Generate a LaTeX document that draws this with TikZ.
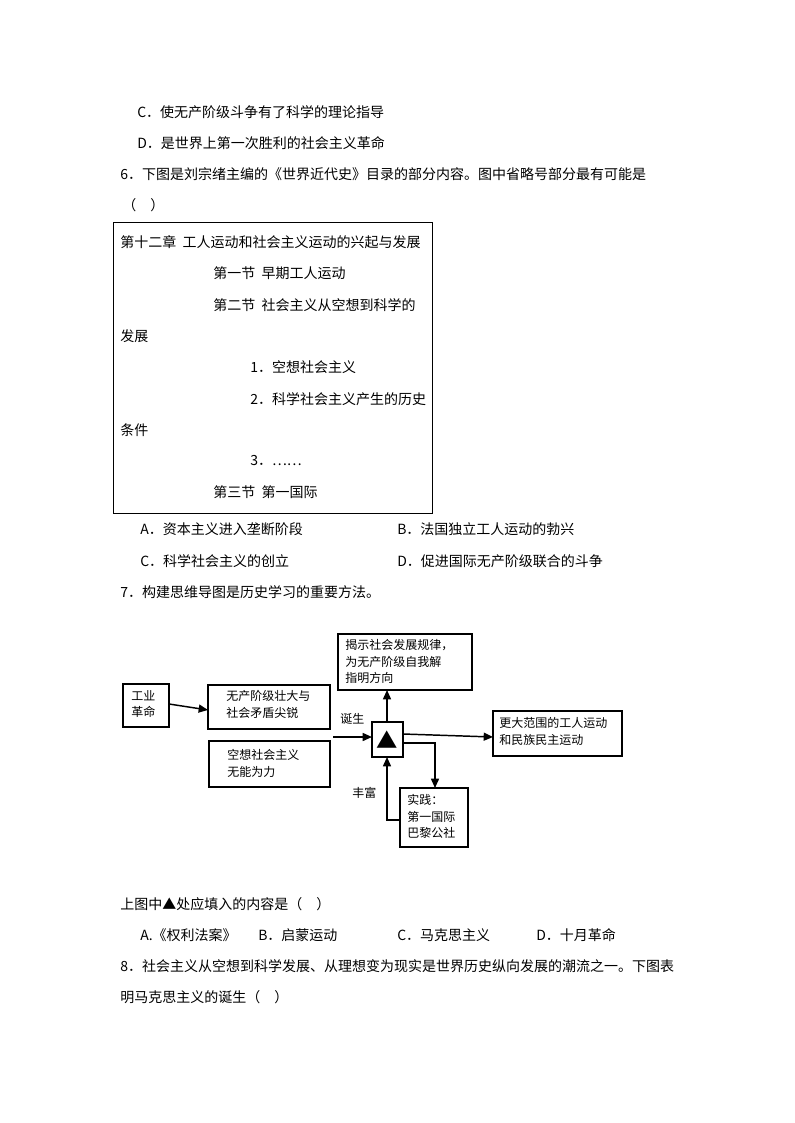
\documentclass[tikz,border=0pt]{standalone}
\usepackage{fontspec}
\setmainfont{Noto Sans CJK SC}
\usetikzlibrary{arrows.meta}
\tikzset{
  txt/.style={anchor=west,inner sep=0pt,font=\fontsize{10.5pt}{12pt}\selectfont},
  dtxt/.style={anchor=north west,inner sep=0pt,align=left,font=\fontsize{9pt}{12.5pt}\selectfont},
  bx/.style={draw,line width=1pt},
  ar/.style={line width=1.1pt,-{Triangle[length=7pt,width=6pt]}},
  ln/.style={line width=1.1pt}
}
\begin{document}
\begin{tikzpicture}[x=0.75pt,y=-0.75pt]
\useasboundingbox (0,0) rectangle (794,1123);
\fill[white] (0,0) rectangle (794,1123);
% question text
\node[txt] (t1) at (137,112) {C．使无产阶级斗争有了科学的理论指导};
\node[txt] (t2) at (137,143) {D．是世界上第一次胜利的社会主义革命};
\node[txt] (t3) at (120,174) {6．下图是刘宗绪主编的《世界近代史》目录的部分内容。图中省略号部分最有可能是};
\node[txt] (t4) at (122,205) {（\quad）};
\draw[line width=0.6pt] (113,222) rectangle (432,513);
\node[txt] (b1) at (120,242) {第十二章\ \ 工人运动和社会主义运动的兴起与发展};
\node[txt] (b2) at (213,273) {第一节\ \ 早期工人运动};
\node[txt] (b3) at (213,305) {第二节\ \ 社会主义从空想到科学的};
\node[txt] (b4) at (120,336) {发展};
\node[txt] (b5) at (250,367) {1．空想社会主义};
\node[txt] (b6) at (250,399) {2．科学社会主义产生的历史};
\node[txt] (b7) at (120,430) {条件};
\node[txt] (b8) at (250,461) {3．……};
\node[txt] (b9) at (213,492) {第三节\ \ 第一国际};
\node[txt] (o1) at (140,529) {A．资本主义进入垄断阶段};
\node[txt] (o2) at (397,529) {B．法国独立工人运动的勃兴};
\node[txt] (o3) at (140,561) {C．科学社会主义的创立};
\node[txt] (o4) at (397,561) {D．促进国际无产阶级联合的斗争};
\node[txt] (t5) at (120,592) {7．构建思维导图是历史学习的重要方法。};
% diagram boxes
\draw[bx] (123,684) rectangle (169,727);
\node[dtxt] (gy) at (131,690) {工业\\革命};
\draw[bx] (208,685) rectangle (330,729);
\node[dtxt] (wc) at (226,690) {无产阶级壮大与\\社会矛盾尖锐};
\draw[bx] (209,741) rectangle (330,787);
\node[dtxt] (kx) at (227,749) {空想社会主义\\无能为力};
\draw[bx] (372,722) rectangle (403,757);
\node (tri) at (387.5,739.5) {\fontsize{16pt}{16pt}\selectfont ▲};
\coordinate (trT) at (387,722);
\coordinate (trB) at (387,757);
\coordinate (trL) at (372,737);
\coordinate (trR) at (403,734);
\coordinate (trR2) at (403,743);
\draw[bx] (338,634) rectangle (472,690);
\node[dtxt] (js) at (345,639) {揭示社会发展规律，\\为无产阶级自我解\\指明方向};
\draw[bx] (493,711) rectangle (622,756);
\node[dtxt] (gd) at (499,717) {更大范围的工人运动\\和民族民主运动};
\draw[bx] (400,788) rectangle (468,847);
\node[dtxt] (sj) at (407,794) {实践：\\第一国际\\巴黎公社};
% connectors
\coordinate (g1) at (169,704);
\coordinate (w1) at (208,710);
\draw[ar] (g1) -- (w1);
\coordinate (ds) at (333,737);
\draw[ar] (ds) -- (trL);
\node[dtxt] (dsl) at (340,713) {诞生};
\draw[ar] (trT) -- (387,690);
\draw[ar] (trR) -- (493,737);
\draw[ar] (trR2) -| (435,788);
\coordinate (sjL) at (400,820);
\draw[ar] (sjL) -| (trB);
\node[dtxt] (fl) at (352,787) {丰富};
% rest
\node[txt] (t6) at (120,904) {上图中▲处应填入的内容是（\quad）};
\node[txt] (p1) at (140,935) {A.《权利法案》};
\node[txt] (p2) at (258,935) {B．启蒙运动};
\node[txt] (p3) at (397,935) {C．马克思主义};
\node[txt] (p4) at (536,935) {D．十月革命};
\node[txt] (t7) at (120,966) {8．社会主义从空想到科学发展、从理想变为现实是世界历史纵向发展的潮流之一。下图表};
\node[txt] (t8) at (120,997) {明马克思主义的诞生（\quad）};
\end{tikzpicture}
\end{document}
